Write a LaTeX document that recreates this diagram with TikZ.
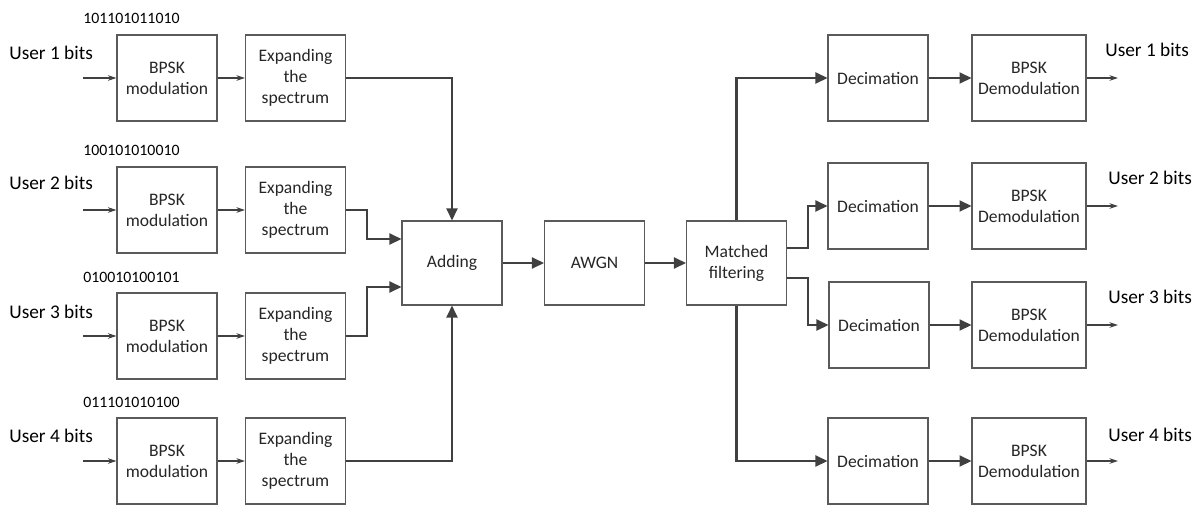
\documentclass[tikz,border=0pt]{standalone}
\usepackage{fontspec}
\setmainfont{Carlito}
\usepackage{tikz}
\usetikzlibrary{arrows.meta, positioning}
\definecolor{wire}{HTML}{404040}
\definecolor{edge}{HTML}{5A5A5A}
\begin{document}
\begin{tikzpicture}[x=0.02cm,y=-0.02cm,block/.style={rectangle,draw=edge,line width=0.6pt,minimum width=2cm,minimum height=1.72cm,align=center,font=\fontsize{10}{12}\selectfont,text=black!85},label/.style={anchor=west,inner sep=0pt,font=\fontsize{11}{13}\selectfont},bits/.style={anchor=west,inner sep=0pt,font=\fontsize{9}{11}\selectfont},thin/.style={draw=wire,line width=0.6pt,-{Stealth[length=0.17cm,width=0.11cm]}},bus/.style={draw=wire,line width=1.2pt,-{Triangle[length=0.24cm,width=0.22cm]}}]
\useasboundingbox (0,0) rectangle (1203,507);
% transmitters
\node[block] (bpsk1) at (167,78) {BPSK\\modulation};
\node[block] (bpsk2) at (167,210) {BPSK\\modulation};
\node[block] (bpsk3) at (167,336) {BPSK\\modulation};
\node[block] (bpsk4) at (167,461) {BPSK\\modulation};
\node[block] (exp1) at (295.5,78) {Expanding\\the\\spectrum};
\node[block] (exp2) at (295.5,210) {Expanding\\the\\spectrum};
\node[block] (exp3) at (295.5,336) {Expanding\\the\\spectrum};
\node[block] (exp4) at (295.5,461) {Expanding\\the\\spectrum};
\node[label] (u1) at (9,53) {User 1 bits};
\node[label] (u2) at (9,183) {User 2 bits};
\node[label] (u3) at (9,312) {User 3 bits};
\node[label] (u4) at (9,436) {User 4 bits};
\node[bits] (b1) at (83,18) {101101011010};
\node[bits] (b2) at (83,150) {100101010010};
\node[bits] (b3) at (83,277) {010010100101};
\node[bits] (b4) at (83,402) {011101010100};
\coordinate (in1) at (83,78);
\coordinate (in2) at (83,210);
\coordinate (in3) at (83,336);
\coordinate (in4) at (83,461);
% channel
\node[block,minimum height=1.68cm] (add) at (452,263) {Adding};
\node[block,minimum height=1.68cm] (awgn) at (594.5,263) {AWGN};
\node[block,minimum height=1.68cm] (match) at (736.5,263) {Matched\\filtering};
% receivers
\node[block] (dec1) at (878,78) {Decimation};
\node[block] (dec2) at (878,206) {Decimation};
\node[block] (dec3) at (879,325) {Decimation};
\node[block] (dec4) at (878,461) {Decimation};
\node[block,minimum width=2.28cm] (dem1) at (1029,78) {BPSK\\Demodulation};
\node[block,minimum width=2.28cm] (dem2) at (1029,206) {BPSK\\Demodulation};
\node[block,minimum width=2.28cm] (dem3) at (1029,325) {BPSK\\Demodulation};
\node[block,minimum width=2.28cm] (dem4) at (1029,461) {BPSK\\Demodulation};
\node[label] (v1) at (1105,50) {User 1 bits};
\node[label] (v2) at (1108,178) {User 2 bits};
\node[label] (v3) at (1108,297) {User 3 bits};
\node[label] (v4) at (1108,435) {User 4 bits};
\coordinate (out1) at (1118,78);
\coordinate (out2) at (1118,206);
\coordinate (out3) at (1118,325);
\coordinate (out4) at (1118,461);
\foreach \i in {1,2,3,4}{
\draw[thin] (in\i)--(bpsk\i);
\draw[thin] (bpsk\i)--(exp\i);
\draw[bus] (dec\i)--(dem\i);
\draw[thin] (dem\i.east)--(out\i);
}
\draw[bus] (exp1.east) -| (add.north);
\draw[bus] (exp4.east) -| (add.south);
\draw[bus] (exp2.east) -- ++(21,0) |- ([yshift=0.48cm]add.west);
\draw[bus] (exp3.east) -- ++(21,0) |- ([yshift=-0.48cm]add.west);
\draw[bus] (add)--(awgn);
\draw[bus] (awgn)--(match);
\draw[bus] (match.north) |- (dec1.west);
\draw[bus] ([yshift=0.3cm]match.east) -- ++(21,0) |- (dec2.west);
\draw[bus] ([yshift=-0.3cm]match.east) -- ++(21,0) |- (dec3.west);
\draw[bus] (match.south) |- (dec4.west);
\end{tikzpicture}
\end{document}
